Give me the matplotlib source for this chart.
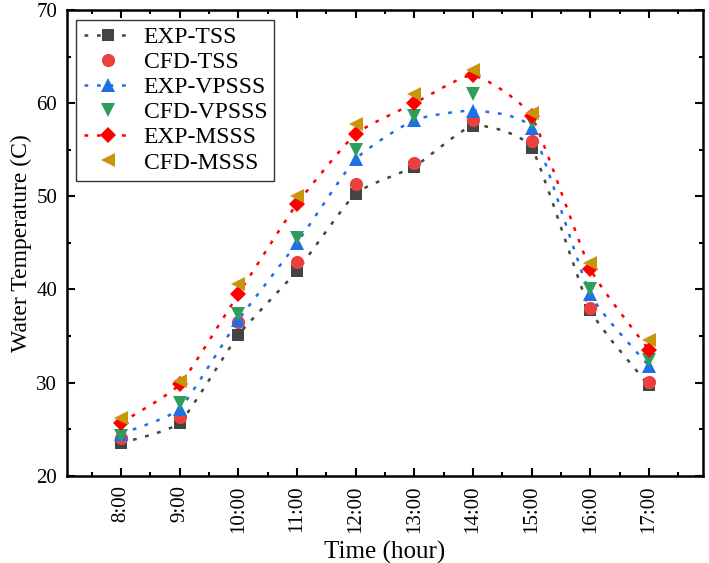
import matplotlib
matplotlib.use("Agg")
import matplotlib.pyplot as plt
from matplotlib.path import Path
from matplotlib.patches import PathPatch
from matplotlib.lines import Line2D
from matplotlib.ticker import MultipleLocator, AutoMinorLocator
import numpy as np

hours = [8, 9, 10, 11, 12, 13, 14, 15, 16, 17]
tick_labels = ["8:00", "9:00", "10:00", "11:00", "12:00", "13:00",
               "14:00", "15:00", "16:00", "17:00"]

exp_tss = [23.5, 25.7, 35.1, 42.0, 50.3, 53.2, 57.6, 55.2, 37.8, 29.7]
cfd_tss = [24.0, 26.3, 36.5, 43.0, 51.3, 53.6, 58.2, 56.0, 38.0, 30.1]
exp_vpsss = [24.5, 27.2, 36.7, 45.0, 54.0, 58.2, 59.2, 57.3, 39.5, 31.8]
cfd_vpsss = [24.3, 27.8, 37.4, 45.5, 55.0, 58.6, 61.0, 58.0, 40.0, 32.4]
exp_msss = [25.7, 29.8, 39.5, 49.2, 56.7, 60.0, 63.0, 58.6, 42.2, 33.5]
cfd_msss = [26.2, 30.2, 40.6, 50.0, 57.8, 61.0, 63.6, 59.0, 42.8, 34.6]

plt.rcParams['font.family'] = ['Liberation Serif', 'DejaVu Serif']

DOTS = (0, (1.5, 3.5))


def _smooth_path(x, y, k=12.0):
    """Gentle Catmull-Rom through the points, drawn as native cubic beziers."""
    pts = np.column_stack([x, y]).astype(float)
    verts = [tuple(pts[0])]
    codes = [Path.MOVETO]
    n = len(pts)
    for i in range(n - 1):
        p0 = pts[max(i - 1, 0)]
        p1 = pts[i]
        p2 = pts[i + 1]
        p3 = pts[min(i + 2, n - 1)]
        c1 = p1 + (p2 - p0) / k
        c2 = p2 - (p3 - p1) / k
        verts += [tuple(c1), tuple(c2), tuple(p2)]
        codes += [Path.CURVE4] * 3
    return Path(verts, codes)


fig = plt.figure(figsize=(7.09, 5.63), dpi=100)
ax = fig.add_axes([0.0945, 0.155, 0.897, 0.827])

series = [
    ("EXP-TSS", exp_tss, 's', '#444444', True, 9),
    ("CFD-TSS", cfd_tss, 'o', '#ea4040', False, 9.5),
    ("EXP-VPSSS", exp_vpsss, '^', '#1f6fe6', True, 10.5),
    ("CFD-VPSSS", cfd_vpsss, 'v', '#2e9e5b', False, 10.5),
    ("EXP-MSSS", exp_msss, 'D', '#ff0000', True, 8.5),
    ("CFD-MSSS", cfd_msss, '<', '#c8960c', False, 10.5),
]

handles = []
for name, vals, mk, col, has_line, ms in series:
    if has_line:
        patch = PathPatch(_smooth_path(hours, vals), facecolor='none',
                          edgecolor=col, linestyle=DOTS,
                          linewidth=1.8, zorder=2)
        ax.add_patch(patch)
    ax.plot(hours, vals, linestyle='none', marker=mk, color=col,
            markersize=ms, markeredgewidth=0, zorder=3)
    handles.append(Line2D([], [], color=col, marker=mk, markersize=ms,
                          markeredgewidth=0,
                          linestyle=DOTS if has_line else 'none',
                          linewidth=1.8, label=name))

ax.set_xlim(7.08, 17.92)
ax.set_ylim(20, 70)
ax.set_xticks(hours)
ax.set_xticklabels(tick_labels, rotation=90)
ax.xaxis.set_minor_locator(MultipleLocator(0.5))
ax.yaxis.set_major_locator(MultipleLocator(10))
ax.yaxis.set_minor_locator(AutoMinorLocator(2))
ax.tick_params(which='both', direction='in', top=True, right=True,
               labelsize=15, width=1.5)
ax.tick_params(which='major', length=6, pad=7)
ax.tick_params(which='minor', length=3)
for sp in ax.spines.values():
    sp.set_linewidth(1.8)

ax.set_xlabel("Time (hour)", fontsize=18, labelpad=6)
ax.set_ylabel("Water Temperature (C)", fontsize=17, labelpad=3)

leg = ax.legend(handles=handles, loc='upper left', fontsize=17,
                fancybox=False, edgecolor='#333333', framealpha=1,
                borderaxespad=0.4, borderpad=0.3, handlelength=2.1,
                handletextpad=0.45, labelspacing=0.15)
leg.get_frame().set_linewidth(1.0)

fig.savefig("out.png", dpi=100)
